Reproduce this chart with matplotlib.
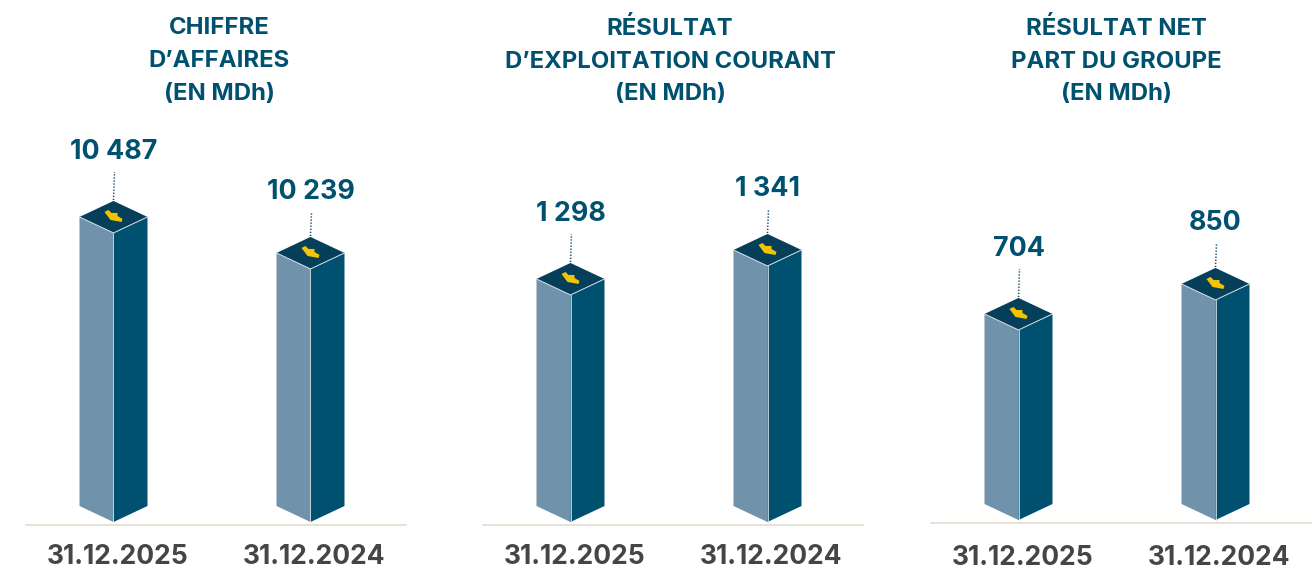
import matplotlib
matplotlib.use("Agg")
import matplotlib.pyplot as plt
from matplotlib.patches import Polygon
from matplotlib.transforms import IdentityTransform

W = 1313
H = 574

dates = ["31.12.2025", "31.12.2024"]
ca = [10487, 10239]
rex = [1298, 1341]
rnpg = [704, 850]
labels_ca = ["10 487", "10 239"]
labels_rex = ["1 298", "1 341"]
labels_rnpg = ["704", "850"]
title_ca = "CHIFFRE\nD’AFFAIRES\n(EN MDh)"
title_rex = "RÉSULTAT\nD’EXPLOITATION COURANT\n(EN MDh)"
title_rnpg = "RÉSULTAT NET\nPART DU GROUPE\n(EN MDh)"

navy = "#00506f"
top_col = "#063f5a"
steel = "#7092ab"
gold = "#f5c400"
grey = "#454545"

plt.rcParams["font.family"] = ["Inter", "Roboto", "DejaVu Sans"]

fig = plt.figure(figsize=(W / 100, H / 100), dpi=100)


def add_panel(left, right, base_y, ylim, vals, labels, title, title_x, pad):
    # axes run from the beige line up to y=130 px
    ax = fig.add_axes([left / W, 1 - base_y / H, (right - left) / W, (base_y - 130) / H])
    ax.set_xlim(-87.5 / 197, (right - left - 87.5) / 197)
    ax.set_ylim(*ylim)
    ax.patch.set_alpha(0)
    for s in ["top", "left", "right"]:
        ax.spines[s].set_visible(False)
    ax.spines["bottom"].set_color("#e4dccd")
    ax.spines["bottom"].set_linewidth(1.2)
    ax.set_yticks([])
    ax.set_xticks([0.02, 1.02])
    ax.set_xticklabels(dates, fontsize=19, fontweight="bold", color=grey)
    ax.tick_params(axis="x", length=0, pad=pad)

    px = IdentityTransform()
    label_gaps = [65, 61]
    dot_ends = [45, 40]
    for i, v in enumerate(vals):
        # everything around the bar is in pixels from its top left corner
        cx, top = ax.transData.transform((i, v))
        bot = ax.transAxes.transform((0, 0))[1] + 19
        hw = 34
        d = 16
        ax.add_patch(Polygon([(cx - hw, top), (cx, top - d), (cx, bot - d), (cx - hw, bot)],
                             fc=steel, ec="none", transform=px, clip_on=False))
        ax.add_patch(Polygon([(cx + hw, top), (cx, top - d), (cx, bot - d), (cx + hw, bot)],
                             fc=navy, ec="none", transform=px, clip_on=False))
        ax.add_patch(Polygon([(cx - hw, top), (cx, top + d), (cx + hw, top), (cx, top - d)],
                             fc=top_col, ec="none", transform=px, clip_on=False))
        ax.plot([cx - hw, cx, cx + hw], [top, top - d, top], color="#d5dfe6", lw=0.7,
                transform=px, clip_on=False)
        ax.plot([cx, cx], [top - d, bot - d], color="#d5dfe6", lw=0.6, transform=px, clip_on=False)
        # yellow logo on the top face
        ax.add_patch(Polygon([(cx - 9, top + 5), (cx - 5, top + 7), (cx - 2, top + 4), (cx + 4, top + 4),
                              (cx + 4, top + 1), (cx + 9, top - 2), (cx + 8, top - 5),
                              (cx - 3, top - 3)],
                             fc=gold, ec="none", transform=px, clip_on=False))
        ax.plot([cx, cx + 1], [top + 17, top + dot_ends[i]], color=top_col, lw=1.1, ls=(0, (0.8, 1.2)),
                transform=px, clip_on=False)
        ax.text(cx, top + label_gaps[i], labels[i], transform=px, ha="center", va="center",
                fontsize=19.3, fontweight="bold", color=navy)

    fig.text(title_x / W, 1 - 61 / H, title, ha="center", va="center",
             fontsize=17.2, fontweight="bold", color=navy, linespacing=1.64)


add_panel(26, 406, 525, (8365, 11086), ca, labels_ca, title_ca, 219, 14)
add_panel(483, 863, 525, (933, 1519), rex, labels_rex, title_rex, 670, 14)
add_panel(931, 1311, 523, (-313, 1599), rnpg, labels_rnpg, title_rnpg, 1116, 16)

fig.savefig("out.png", dpi=100)
